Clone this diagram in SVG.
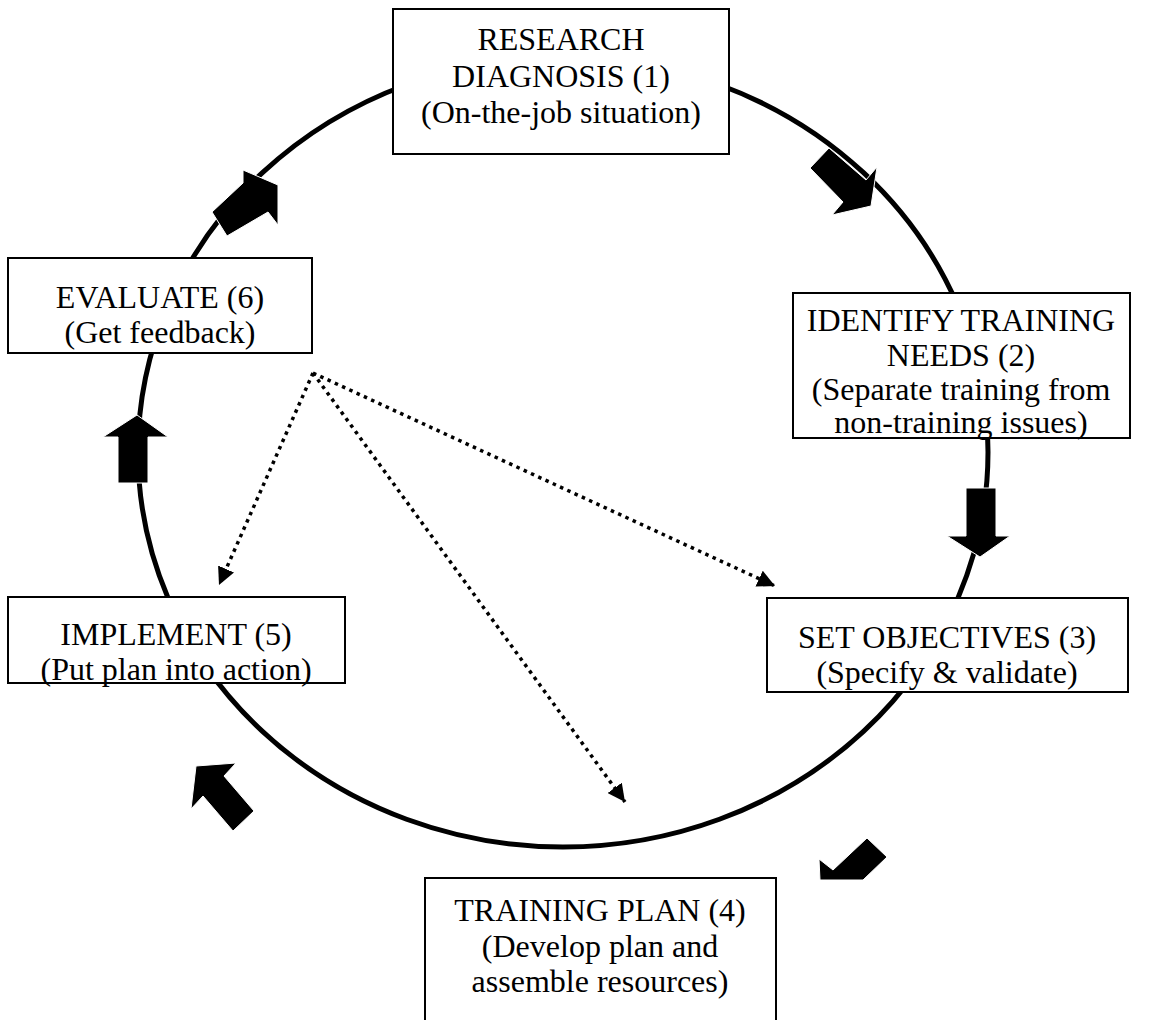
<svg xmlns="http://www.w3.org/2000/svg" width="1154" height="1020" viewBox="0 0 1154 1020">
<defs>
<style>
.box{fill:#fff;stroke:#000;stroke-width:2}
.t{font-family:"Liberation Serif","Times New Roman",serif;font-size:32px;fill:#000;text-anchor:middle}
.dot{fill:none;stroke:#000;stroke-width:3.5;stroke-dasharray:3.5 4.5}
.blk{fill:#000;stroke:#fff;stroke-width:1}
</style>
<marker id="ah" viewBox="0 0 10 10" refX="10" refY="5" markerWidth="5" markerHeight="5" markerUnits="strokeWidth" orient="auto">
<path d="M0,0 L10,5 L0,10 Z" fill="#000"/>
</marker>
</defs>
<rect width="1154" height="1020" fill="#fff"/>
<ellipse cx="563" cy="452" rx="425" ry="395" fill="none" stroke="#000" stroke-width="5"/>
<g id="n1"><rect class="box" x="393" y="9" width="336" height="145"/>
<text class="t" x="561" y="50">RESEARCH</text><text class="t" x="561" y="87">DIAGNOSIS (1)</text><text class="t" x="561" y="123">(On-the-job situation)</text></g>
<g id="n2"><rect class="box" x="793" y="293" width="337" height="145"/>
<text class="t" x="961" y="331">IDENTIFY TRAINING</text><text class="t" x="961" y="366">NEEDS (2)</text><text class="t" x="961" y="400">(Separate training from</text><text class="t" x="961" y="433">non-training issues)</text></g>
<g id="n3"><rect class="box" x="767" y="598" width="361" height="94"/>
<text class="t" x="947" y="648">SET OBJECTIVES (3)</text><text class="t" x="947" y="683">(Specify &amp; validate)</text></g>
<g id="n4"><path class="box" d="M425,1022 V878 H776 V1022"/>
<text class="t" x="600" y="921">TRAINING PLAN (4)</text><text class="t" x="600" y="957">(Develop plan and</text><text class="t" x="600" y="992">assemble resources)</text></g>
<g id="n5"><rect class="box" x="8" y="597" width="337" height="86"/>
<text class="t" x="176" y="645">IMPLEMENT (5)</text><text class="t" x="176" y="680">(Put plan into action)</text></g>
<g id="n6"><rect class="box" x="8" y="258" width="304" height="95"/>
<text class="t" x="160" y="308">EVALUATE (6)</text><text class="t" x="160" y="343">(Get feedback)</text></g>
<g id="connectors">
<path class="blk" d="M212,212 L243,183 L243,170 L278,185 L278,225 L268,212 L227,236 Z"/>
<path class="blk" d="M810,168 L829,148 L866,180 L877,167 L871,206 L832,215 L843,202 Z"/>
<path class="blk" d="M966,488 L996,488 L996,536 L1010,536 L980,557 L947,536 L966,536 Z"/>
<path class="blk" d="M867,838 L887,857 L863,880 L820,880 L819,859 L833,870 Z"/>
<path class="blk" d="M254,811 L224,776 L236,763 L196,766 L191,809 L203,796 L233,831 Z"/>
<path class="blk" d="M118,483 L148,483 L148,437 L168,437 L137,415 L103,437 L118,437 Z"/>
<line class="dot" x1="313" y1="373" x2="219" y2="585" marker-end="url(#ah)"/>
<line class="dot" x1="313" y1="373" x2="775" y2="586" marker-end="url(#ah)"/>
<line class="dot" x1="313" y1="373" x2="625" y2="802" marker-end="url(#ah)"/>
</g>
</svg>
